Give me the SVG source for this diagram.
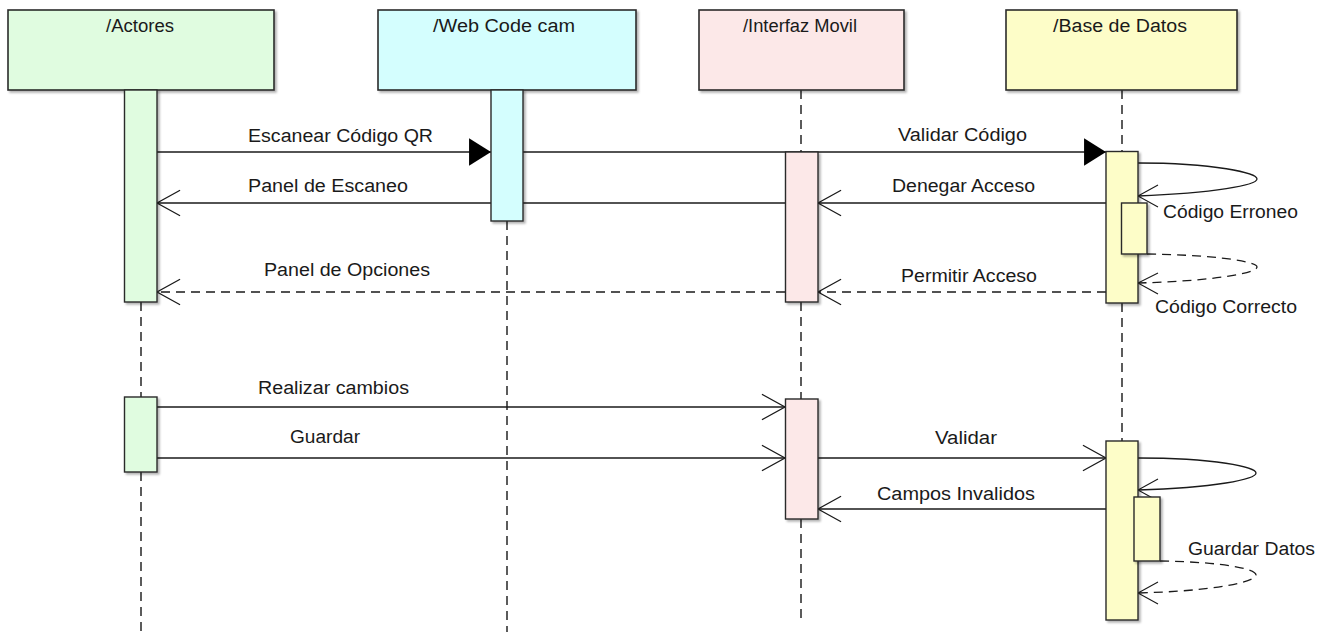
<svg xmlns="http://www.w3.org/2000/svg" width="1334" height="632" viewBox="0 0 1334 632">
<style>
  text { font-family: "Liberation Sans", Arial, sans-serif; font-size: 18px; fill: #1a1a1a; }
  .hdr { stroke: #2a2a2a; stroke-width: 1.6; filter: url(#sh); }
  .act { stroke: #2a2a2a; stroke-width: 1.4; filter: url(#sh); }
  .life { stroke: #333; stroke-width: 1.6; stroke-dasharray: 9 6; fill: none; }
  .msg { stroke: #1a1a1a; stroke-width: 1.3; fill: none; }
  .dash { stroke-dasharray: 9 6; }
  .head { stroke: #1a1a1a; stroke-width: 1.1; fill: none; }
  .g { fill: #e0fce0; } .c { fill: #d4fefe; } .p { fill: #fce8e8; } .y { fill: #fdfdc8; }
</style>
<defs>
  <filter id="sh" x="-10%" y="-10%" width="130%" height="130%">
    <feDropShadow dx="2" dy="2" stdDeviation="1.2" flood-color="#000" flood-opacity="0.3"/>
  </filter>
  <marker id="open" markerUnits="userSpaceOnUse" orient="auto" refX="0" refY="0" markerWidth="30" markerHeight="30" viewBox="-22 -13 24 26" overflow="visible">
    <path d="M-20,-11 L0,0 L-20,11" fill="none" stroke="#1a1a1a" stroke-width="1.1"/>
  </marker>
  <marker id="fill" markerUnits="userSpaceOnUse" orient="auto" refX="0" refY="0" markerWidth="30" markerHeight="30" viewBox="-22 -13 24 26" overflow="visible">
    <path d="M-19,-12 L0,0 L-19,12 Z" fill="#000"/>
  </marker>
</defs>
<rect width="1334" height="632" fill="#ffffff"/>

<g id="lifelines">
  <line class="life" x1="141" y1="302" x2="141" y2="397"/>
  <line class="life" x1="141" y1="472" x2="141" y2="632"/>
  <line class="life" x1="507" y1="221" x2="507" y2="632"/>
  <line class="life" x1="801" y1="90" x2="801" y2="152"/>
  <line class="life" x1="801" y1="302" x2="801" y2="399"/>
  <line class="life" x1="801" y1="519" x2="801" y2="620"/>
  <line class="life" x1="1122" y1="90" x2="1122" y2="151"/>
  <line class="life" x1="1122" y1="303" x2="1122" y2="441"/>
</g>

<g id="connectors">
  <line class="msg" x1="157" y1="152" x2="491" y2="152" marker-end="url(#fill)"/>
  <line class="msg" x1="523" y1="152" x2="1106" y2="152" marker-end="url(#fill)"/>
  <line class="msg" x1="1106" y1="203" x2="818" y2="203" marker-end="url(#open)"/>
  <line class="msg" x1="785" y1="203" x2="523" y2="203"/>
  <line class="msg" x1="491" y1="203" x2="157" y2="203" marker-end="url(#open)"/>
  <line class="msg dash" x1="1106" y1="292" x2="818" y2="292" marker-end="url(#open)"/>
  <line class="msg dash" x1="785" y1="292" x2="157" y2="292" marker-end="url(#open)"/>
  <line class="msg" x1="157" y1="407" x2="785" y2="407" marker-end="url(#open)"/>
  <line class="msg" x1="157" y1="458" x2="785" y2="458" marker-end="url(#open)"/>
  <line class="msg" x1="818" y1="458" x2="1106" y2="458" marker-end="url(#open)"/>
  <line class="msg" x1="1106" y1="509" x2="818" y2="509" marker-end="url(#open)"/>
  <!-- self messages -->
  <path class="msg" d="M1138,163 C1215,163 1257,173 1257,179 C1257,185 1215,193 1138,196"/>
  <polyline class="head" points="1158,185 1138,196 1158,207"/>
  <path class="msg dash" d="M1147,254 C1220,255 1257,262 1257,267 C1257,273 1215,281 1138,283"/>
  <polyline class="head" points="1158,273 1138,283 1158,294"/>
  <path class="msg" d="M1138,458 C1215,458 1256,467 1256,473 C1256,479 1215,488 1138,490"/>
  <polyline class="head" points="1158,479 1138,490 1158,501"/>
  <path class="msg dash" d="M1160,561 C1225,562 1256,569 1256,575 C1256,582 1215,591 1138,593"/>
  <polyline class="head" points="1158,582 1138,593 1158,604"/>

  <text x="248" y="142" textLength="185" lengthAdjust="spacingAndGlyphs">Escanear Código QR</text>
  <text x="898" y="141" textLength="129" lengthAdjust="spacingAndGlyphs">Validar Código</text>
  <text x="248" y="192" textLength="160" lengthAdjust="spacingAndGlyphs">Panel de Escaneo</text>
  <text x="892" y="192" textLength="143" lengthAdjust="spacingAndGlyphs">Denegar Acceso</text>
  <text x="264" y="276" textLength="166" lengthAdjust="spacingAndGlyphs">Panel de Opciones</text>
  <text x="901" y="282" textLength="136" lengthAdjust="spacingAndGlyphs">Permitir Acceso</text>
  <text x="1163" y="218" textLength="135" lengthAdjust="spacingAndGlyphs">Código Erroneo</text>
  <text x="1155" y="313" textLength="142" lengthAdjust="spacingAndGlyphs">Código Correcto</text>
  <text x="258" y="394" textLength="151" lengthAdjust="spacingAndGlyphs">Realizar cambios</text>
  <text x="290" y="443" textLength="70" lengthAdjust="spacingAndGlyphs">Guardar</text>
  <text x="935" y="444" textLength="62" lengthAdjust="spacingAndGlyphs">Validar</text>
  <text x="877" y="500" textLength="158" lengthAdjust="spacingAndGlyphs">Campos Invalidos</text>
  <text x="1188" y="555" textLength="127" lengthAdjust="spacingAndGlyphs">Guardar Datos</text>
</g>

<g id="actores">
  <rect class="hdr g" x="8" y="10" width="266" height="80"/>
  <text x="106" y="32" textLength="68" lengthAdjust="spacingAndGlyphs">/Actores</text>
  <rect class="act g" x="124.5" y="90" width="32.5" height="212"/>
  <rect class="act g" x="124.5" y="397" width="32.5" height="75"/>
</g>

<g id="webcodecam">
  <rect class="hdr c" x="378" y="10" width="258" height="80"/>
  <text x="433" y="32" textLength="142" lengthAdjust="spacingAndGlyphs">/Web Code cam</text>
  <rect class="act c" x="491" y="90" width="32" height="131"/>
</g>

<g id="interfazmovil">
  <rect class="hdr p" x="699" y="10" width="205" height="80"/>
  <text x="743" y="32" textLength="114" lengthAdjust="spacingAndGlyphs">/Interfaz Movil</text>
  <rect class="act p" x="785.5" y="152" width="32.5" height="150"/>
  <rect class="act p" x="785.5" y="399" width="32.5" height="120"/>
</g>

<g id="basededatos">
  <rect class="hdr y" x="1006" y="10" width="231" height="80"/>
  <text x="1053" y="32" textLength="134" lengthAdjust="spacingAndGlyphs">/Base de Datos</text>
  <rect class="act y" x="1106" y="151.5" width="32" height="151.5"/>
  <rect class="act y" x="1121.5" y="203" width="25.5" height="51"/>
  <rect class="act y" x="1106" y="441" width="32" height="179"/>
  <rect class="act y" x="1134" y="497" width="26" height="64"/>
</g>
</svg>
